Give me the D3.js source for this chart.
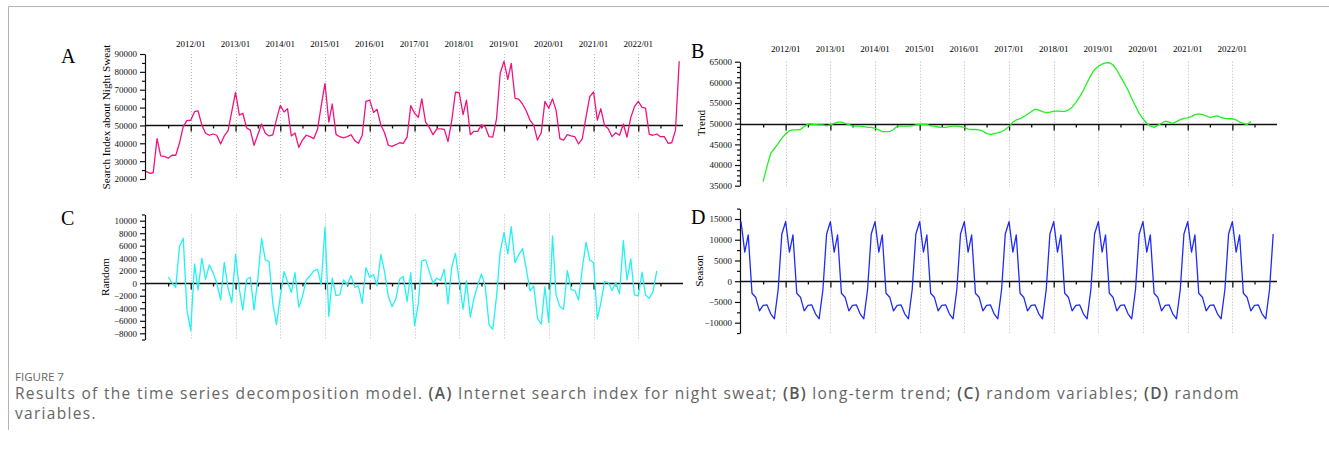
<!DOCTYPE html>
<html>
<head>
<meta charset="utf-8">
<script src="https://cdn.jsdelivr.net/npm/d3@7"></script>
<style>
  html, body { margin: 0; padding: 0; background: #fff; }
  svg { display: block; }
</style>
</head>
<body>
<svg id="fig" width="1329" height="450"></svg>
<script>
// Monthly search index for "night sweat", 2011/01 – 2022/12
const searchIndex = [
  24300, 23200, 23500, 42600, 32900, 32700, 31600, 33300, 33300, 40000, 49300, 52700, // 2011
  52900, 57700, 58100, 50200, 45600, 44500, 45200, 44500, 39600, 44100, 47100, 57700, // 2012
  68500, 55800, 56800, 48600, 47400, 38900, 44800, 50800, 45600, 44100, 44700, 53400, // 2013
  61200, 57500, 59400, 44100, 45800, 37700, 41800, 44500, 43700, 42600, 47800, 60900, // 2014
  73600, 51900, 62000, 45000, 43700, 43000, 43700, 44800, 41500, 40000, 44500, 63500, // 2015
  64200, 57300, 59000, 50200, 45900, 38900, 38300, 39200, 40300, 40000, 43400, 61100, // 2016
  56800, 54500, 64900, 51900, 48900, 44800, 48100, 48100, 47800, 40900, 53000, 68700, // 2017
  68300, 56000, 64200, 44800, 46700, 46700, 50400, 49300, 43700, 43400, 53700, 79200, // 2018
  85900, 75800, 84800, 65200, 64700, 62000, 58200, 53000, 50000, 41800, 45900, 63500, // 2019
  59600, 64900, 58600, 42600, 41800, 44800, 44100, 43700, 39600, 42600, 54900, 66100, // 2020
  68700, 53000, 59400, 50000, 48100, 43700, 45900, 44500, 50800, 43400, 54500, 60500, // 2021
  63500, 60100, 59700, 45000, 44500, 45200, 43700, 43700, 40000, 40300, 47400, 85900  // 2022
];

// Long-term trend (centred moving average), 2011/07 – 2022/06
const trend = [
                                      36000, 39600, 42800, 44000, 45200, 46500, // 2011
  47500, 48300, 48500, 48500, 48600, 49300, 49900, 49900, 49800, 49700, 49700, 49500, // 2012
  49700, 50100, 50400, 50400, 50100, 49800, 49400, 49400, 49400, 49300, 49100, 49100, // 2013
  48900, 48500, 48100, 48100, 48100, 48600, 49400, 49400, 49400, 49400, 49500, 49700, // 2014
  49800, 49900, 49800, 49500, 49400, 49200, 49100, 49100, 49300, 49400, 49400, 49300, // 2015
  49100, 48700, 48600, 48600, 48500, 48200, 47600, 47400, 47600, 47800, 48100, 48600, // 2016
  49300, 50400, 50900, 51200, 51700, 52300, 52900, 53500, 53300, 52900, 52700, 52800, // 2017
  53000, 53100, 53000, 53000, 53300, 54000, 55100, 56500, 58100, 59900, 61700, 63100, // 2018
  63900, 64400, 64700, 64800, 64200, 63000, 61400, 59800, 58100, 56100, 54300, 52500, // 2019
  51200, 50100, 49400, 49100, 49600, 50100, 50600, 50400, 50100, 50500, 51000, 51300, // 2020
  51400, 51700, 52200, 52400, 52200, 51900, 51500, 51700, 51900, 51500, 51300, 51200, // 2021
  51200, 50900, 50400, 50100, 49800, 50500                                            // 2022
];

// Random (residual) component, 2011/07 – 2022/06
const randomPart = [
                                       1000,   100,  -640,  5860,  7190, -4260, // 2011
  -7560,  3090, -1060,  3990,   640,  2930,  1700,     0, -2660,  3350,  -800, -3090, // 2012
   4630,  -960, -4260,   640,   960, -4260,   530,  7190,  3730,  3510, -3200, -6600, // 2013
  -2130,  1860,   270, -1490,  1700, -3830, -2130,   530,  1170,  1970,  2240,  -200, // 2014
   8950, -5320,   800, -1970, -1860,   530,  -270,  1220,  -640,  -430, -3200,  2500, // 2015
    960,  1380,  -430,  4630,  1860, -2130, -3730, -2560,   640,  1060, -2930,  1700, // 2016
  -6760, -3200,  3570,  3730,  1860,     0,   800,   430,  2240, -3300,  2660,  4790, // 2017
    270, -4150,   370, -5430, -2400,  -270,  1490,  -530, -6660, -7350, -2130,  5060, // 2018
   8090,  4690,  9050,  3300,  4530,  5540,  2400, -1220,  -430, -5590, -6550,  -530, // 2019
  -6280,  7560, -1860, -3730, -4150,  2020,  -960, -1170, -2660,  2400,  6550,  3730, // 2020
   3300, -5700, -3200,   270,   110, -1170,   110, -1700,  6820,   530,  3890, -1860, // 2021
  -2020,  1760, -1860, -2400, -1330,  1970                                            // 2022
];

// Seasonal component, 2011/01 – 2022/12
const season = [
  14350, 7000, 11150, -2900, -3850, -7150, -5800, -5700, -7850, -9060, -2000, 11400, // 2011
  14350, 7000, 11150, -2900, -3850, -7150, -5800, -5700, -7850, -9060, -2000, 11400, // 2012
  14350, 7000, 11150, -2900, -3850, -7150, -5800, -5700, -7850, -9060, -2000, 11400, // 2013
  14350, 7000, 11150, -2900, -3850, -7150, -5800, -5700, -7850, -9060, -2000, 11400, // 2014
  14350, 7000, 11150, -2900, -3850, -7150, -5800, -5700, -7850, -9060, -2000, 11400, // 2015
  14350, 7000, 11150, -2900, -3850, -7150, -5800, -5700, -7850, -9060, -2000, 11400, // 2016
  14350, 7000, 11150, -2900, -3850, -7150, -5800, -5700, -7850, -9060, -2000, 11400, // 2017
  14350, 7000, 11150, -2900, -3850, -7150, -5800, -5700, -7850, -9060, -2000, 11400, // 2018
  14350, 7000, 11150, -2900, -3850, -7150, -5800, -5700, -7850, -9060, -2000, 11400, // 2019
  14350, 7000, 11150, -2900, -3850, -7150, -5800, -5700, -7850, -9060, -2000, 11400, // 2020
  14350, 7000, 11150, -2900, -3850, -7150, -5800, -5700, -7850, -9060, -2000, 11400, // 2021
  14350, 7000, 11150, -2900, -3850, -7150, -5800, -5700, -7850, -9060, -2000, 11400  // 2022
];

// Axis tick values
const yearTicks = d3.range(2012, 2023).map(y => new Date(y, 0, 1));
const midYearTicks = d3.range(2011, 2023).map(y => new Date(y, 6, 1));
const ticksA = d3.range(20000, 90001, 10000);
const ticksB = d3.range(35000, 65001, 5000);
const ticksC = d3.range(-8000, 10001, 2000);
const ticksD = d3.range(-10000, 15001, 5000);

const captionHead = "FIGURE 7";
const captionParts = [
  ["Results of the time series decomposition model. ", false],
  ["(A)", true], [" Internet search index for night sweat; ", false],
  ["(B)", true], [" long-term trend; ", false],
  ["(C)", true], [" random variables; ", false],
  ["(D)", true], [" random", false]
];
const captionTail = "variables.";

const svg = d3.select("#fig");
const SERIF = "'Liberation Serif', 'Times New Roman', serif";
const SANS = "'Open Sans', 'Noto Sans', sans-serif";

// page frame
svg.append("path")
  .attr("d", "M8.5,430 V6.5 H1329")
  .attr("fill", "none").attr("stroke", "#b4b4b4").attr("stroke-width", 1);

const months = (start, n) => d3.range(n).map(i => d3.timeMonth.offset(start, i));

function panel(cfg) {
  const g = svg.append("g");
  const x = d3.scaleTime()
    .domain([new Date(2011, 0, 1), new Date(2023, 0, 1)])
    .range([cfg.axisX + 1, cfg.xEnd]);
  const y = d3.scaleLinear().domain(cfg.scaleDomain).range(cfg.scaleRange);
  const yExt = d3.scaleLinear().domain(cfg.extent).range(cfg.extent.map(y));

  // dotted year gridlines
  g.append("g").selectAll("line").data(yearTicks).join("line")
    .attr("x1", d => Math.round(x(d)) + 0.5).attr("x2", d => Math.round(x(d)) + 0.5)
    .attr("y1", y(cfg.extent[1])).attr("y2", y(cfg.extent[0]))
    .attr("stroke", "#b8b8b8").attr("stroke-width", 1).attr("stroke-dasharray", "1,2");

  // year labels along the top
  if (cfg.labelY) {
    g.append("g").selectAll("text").data(yearTicks).join("text")
      .attr("x", d => x(d)).attr("y", cfg.labelY)
      .attr("text-anchor", "middle")
      .attr("font-family", SERIF).attr("font-size", 9)
      .text(d3.timeFormat("%Y/%m"));
  }

  // y axis: major + minor ticks
  const yAxisG = g.append("g").attr("transform", `translate(${cfg.axisX},0)`);
  yAxisG.append("g")
    .call(d3.axisLeft(yExt).tickValues(cfg.minor).tickSize(3).tickSizeOuter(0).tickFormat(""));
  yAxisG.append("g")
    .call(d3.axisLeft(yExt).tickValues(cfg.major).tickSize(5).tickSizeOuter(0)
      .tickPadding(3).tickFormat(d3.format("d")))
    .call(a => a.select(".domain").remove());
  yAxisG.selectAll("path, line").attr("stroke", "#111").attr("stroke-width", 1.2);
  yAxisG.selectAll("text").attr("font-family", SERIF).attr("font-size", 9).attr("fill", "#111");

  // horizontal reference axis with year / half-year ticks
  const base = Math.round(y(cfg.baseline)) + 0.5;
  const xAxisG = g.append("g").attr("transform", `translate(0,${base})`);
  xAxisG.append("g")
    .call(d3.axisBottom(x).tickValues(midYearTicks).tickSize(3).tickSizeOuter(0).tickFormat(""));
  xAxisG.append("g")
    .call(d3.axisBottom(x).tickValues(yearTicks).tickSize(6).tickSizeOuter(0).tickFormat(""))
    .call(a => a.select(".domain").remove());
  xAxisG.selectAll(".domain").attr("d", `M${cfg.axisX},0H${cfg.xEnd}`);
  xAxisG.selectAll("path, line").attr("stroke", "#111").attr("stroke-width", 1.3);

  // series
  const dates = months(cfg.start, cfg.values.length);
  g.append("path")
    .datum(cfg.values.map((v, i) => [dates[i], v]))
    .attr("fill", "none").attr("stroke", cfg.color).attr("stroke-width", 1.3)
    .attr("stroke-linejoin", "round")
    .attr("d", d3.line().x(d => x(d[0])).y(d => y(d[1])));

  // axis title
  g.append("text")
    .attr("transform", `translate(${cfg.titleX},${cfg.titleY}) rotate(-90)`)
    .attr("text-anchor", "middle")
    .attr("font-family", SERIF).attr("font-size", 11.2)
    .text(cfg.title);

  // panel letter
  g.append("text")
    .attr("x", cfg.letterPos[0]).attr("y", cfg.letterPos[1])
    .attr("font-family", SERIF).attr("font-size", 20)
    .text(cfg.letter);
}

panel({
  letter: "A", letterPos: [61, 63],
  title: "Search Index about Night Sweat", titleX: 110, titleY: 117,
  axisX: 145, xEnd: 683,
  scaleDomain: [20000, 90000], scaleRange: [179, 54], extent: [20000, 90000],
  major: ticksA, minor: d3.range(25000, 90000, 10000),
  baseline: 50000, labelY: 47,
  values: searchIndex, start: new Date(2011, 0, 1), color: "#f2127e"
});

panel({
  letter: "B", letterPos: [691, 58],
  title: "Trend", titleX: 705, titleY: 123,
  axisX: 740, xEnd: 1277,
  scaleDomain: [35000, 65000], scaleRange: [185.7, 61.7], extent: [35000, 65000],
  major: ticksB, minor: d3.range(36250, 65000, 1250).filter(v => v % 5000 !== 0),
  baseline: 50000, labelY: 52,
  values: trend, start: new Date(2011, 6, 1), color: "#22f022"
});

panel({
  letter: "C", letterPos: [61, 225],
  title: "Random", titleX: 109, titleY: 277,
  axisX: 145, xEnd: 683,
  scaleDomain: [-8000, 10000], scaleRange: [333.3, 220.7], extent: [-9000, 11000],
  major: ticksC, minor: d3.range(-9000, 11001, 2000),
  baseline: 0, labelY: null,
  values: randomPart, start: new Date(2011, 6, 1), color: "#22f2f2"
});

panel({
  letter: "D", letterPos: [691, 224],
  title: "Season", titleX: 703, titleY: 271,
  axisX: 740, xEnd: 1277,
  scaleDomain: [-10000, 15000], scaleRange: [322.7, 219], extent: [-12500, 17500],
  major: ticksD, minor: d3.range(-12500, 17501, 5000),
  baseline: 0, labelY: null,
  values: season, start: new Date(2011, 0, 1), color: "#1f2cf5"
});

// caption
svg.append("text")
  .attr("x", 15).attr("y", 381)
  .attr("font-family", SANS).attr("font-size", 11.5).attr("fill", "#666")
  .text(captionHead);

const captionSize = 15.5;
const line1 = svg.append("text")
  .attr("x", 15).attr("y", 399)
  .attr("font-family", SANS).attr("font-size", captionSize).attr("fill", "#666");
line1.selectAll("tspan").data(captionParts).join("tspan")
  .attr("font-weight", d => d[1] ? 600 : 400)
  .attr("fill", d => d[1] ? "#555" : "#666")
  .text(d => d[0]);

const line2 = svg.append("text")
  .attr("x", 15).attr("y", 419)
  .attr("font-family", SANS).attr("font-size", captionSize).attr("fill", "#666")
  .text(captionTail);

// spread the first caption line across the text column width
const targetW = 1225;
const natural = line1.node().getComputedTextLength();
const nChars = captionParts.map(d => d[0]).join("").length;
const spacing = (targetW - natural) / nChars;
line1.attr("letter-spacing", spacing);
line2.attr("letter-spacing", spacing);
</script>
</body>
</html>
